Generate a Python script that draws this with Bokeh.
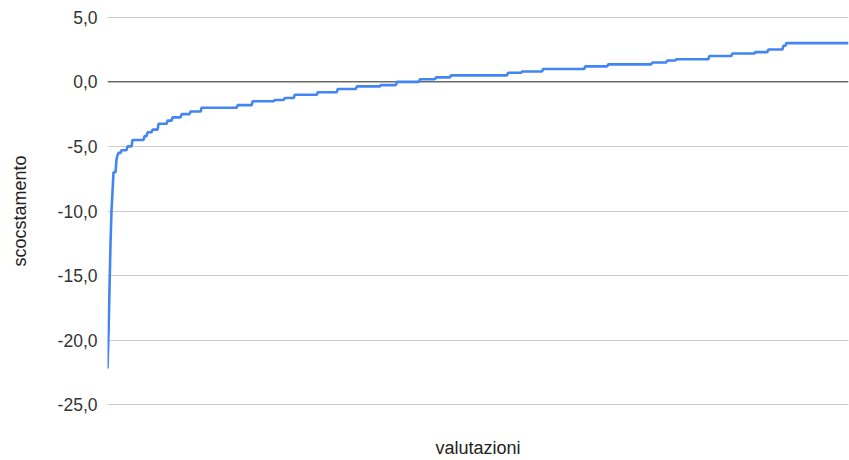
import numpy as np
from bokeh.plotting import figure
from bokeh.models import Range1d, FixedTicker, Span, ColumnDataSource
from bokeh.embed import file_html
from bokeh.resources import INLINE

# sorted deviation values (level) and how many ratings sit at each level
levels = [-22.2, -19.5, -16.0, -12.5, -10.0, -8.5, -7.0, -6.0, -5.7, -5.5, -5.3, -5.0,
          -4.5, -4.2, -3.9, -3.7, -3.25, -3.0, -2.75, -2.5, -2.3, -2.0, -1.8, -1.5,
          -1.4, -1.25, -1.0, -0.8, -0.55, -0.35, -0.25, 0.0, 0.2, 0.35, 0.5, 0.7,
          0.8, 1.0, 1.2, 1.35, 1.5, 1.65, 1.75, 2.0, 2.2, 2.3, 2.5, 2.8, 3.0]
counts = [1, 1, 1, 1, 1, 1, 3, 1, 1, 3, 6, 5,
          12, 3, 5, 6, 9, 5, 9, 9, 11, 36, 15, 22,
          10, 10, 23, 20, 19, 24, 16, 23, 16, 15, 57, 14,
          21, 42, 23, 44, 15, 9, 33, 23, 23, 13, 15, 3, 63]

y_ticks = [-25, -20, -15, -10, -5, 0, 5]
y_tick_labels = ["-25,0", "-20,0", "-15,0", "-10,0", "-5,0", "0,0", "5,0"]

values = np.repeat(levels, counts)
ranks = np.arange(len(values))
src = ColumnDataSource(dict(x=ranks, y=values))

FONT = "Liberation Sans"

p = figure(width=849, height=460, output_backend="svg", toolbar_location=None,
           x_range=Range1d(0, len(values) - 1), y_range=Range1d(-25.06, 5.06),
           min_border_left=107, min_border_top=16, min_border_right=1,
           min_border_bottom=55)
p.outline_line_color = None
p.background_fill_color = "white"
p.border_fill_color = "white"

p.line("x", "y", source=src, line_color="#4285F4", line_width=2.6)

zero = Span(location=0, dimension="width", line_color="#333333", line_width=1,
            level="underlay")
p.add_layout(zero)

p.xgrid.grid_line_color = None
p.ygrid.grid_line_color = "#cccccc"
p.ygrid.grid_line_width = 1

# y axis
p.yaxis.ticker = FixedTicker(ticks=y_ticks)
p.yaxis.major_label_overrides = {t: l for t, l in zip(y_ticks, y_tick_labels)}
p.yaxis.axis_line_color = None
p.yaxis.major_tick_line_color = None
p.yaxis.minor_tick_line_color = None
p.yaxis.major_tick_out = 0
p.yaxis.major_tick_in = 0
p.yaxis.major_label_standoff = 10
p.yaxis.major_label_text_font = FONT
p.yaxis.major_label_text_font_size = "17.5px"
p.yaxis.major_label_text_color = "#333333"
p.yaxis.axis_label = "scocstamento"
p.yaxis.axis_label_text_font = FONT
p.yaxis.axis_label_text_font_size = "18px"
p.yaxis.axis_label_text_font_style = "normal"
p.yaxis.axis_label_text_color = "#222222"
p.yaxis.axis_label_standoff = 25

# x axis
p.xaxis.ticker = FixedTicker(ticks=[])
p.xaxis.axis_line_color = None
p.xaxis.major_tick_line_color = None
p.xaxis.minor_tick_line_color = None
p.xaxis.major_tick_out = 0
p.xaxis.major_tick_in = 0
p.xaxis.major_label_standoff = 0
p.xaxis.axis_label = "valutazioni"
p.xaxis.axis_label_text_font = FONT
p.xaxis.axis_label_text_font_size = "18px"
p.xaxis.axis_label_text_font_style = "normal"
p.xaxis.axis_label_text_color = "#222222"
p.xaxis.axis_label_standoff = 32

open("out.html", "w").write(file_html(p, INLINE))
